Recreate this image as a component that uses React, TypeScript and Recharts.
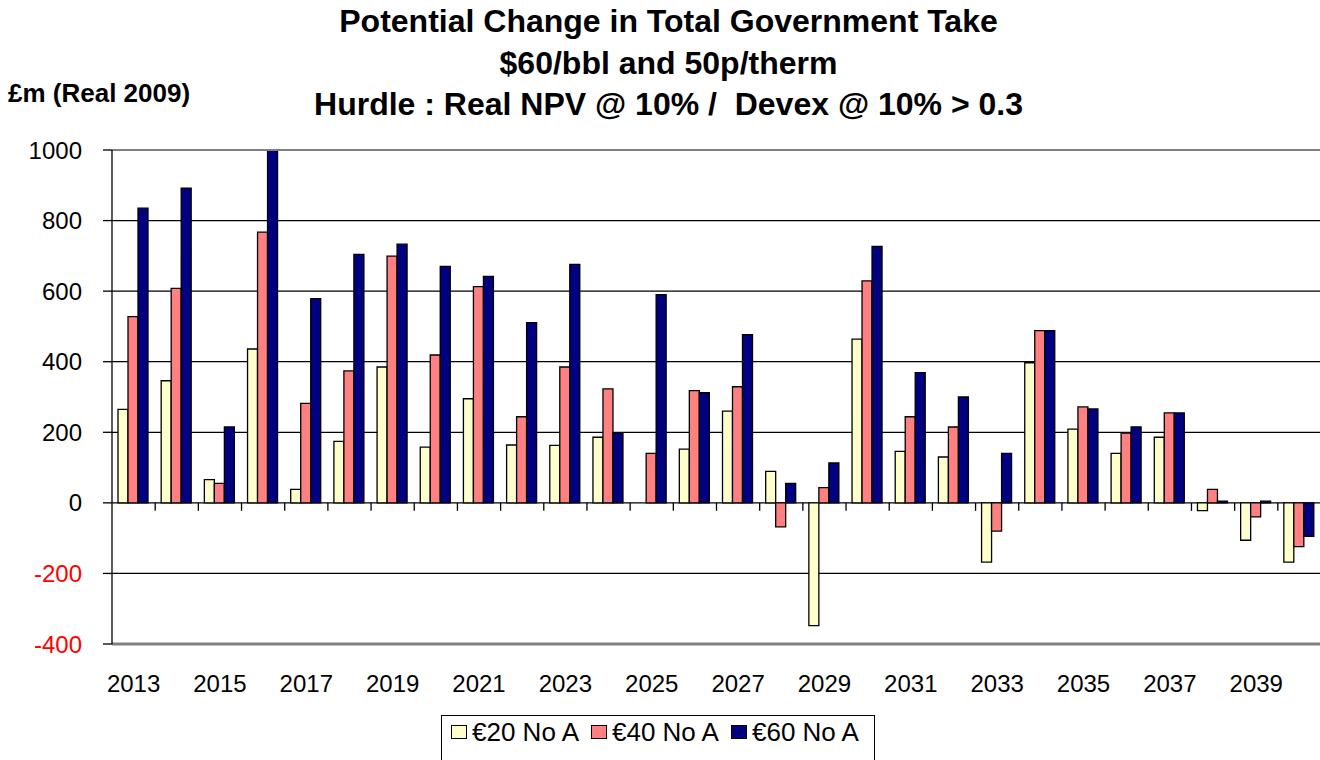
import React from 'react';
import { BarChart, Bar, XAxis, YAxis, CartesianGrid, ReferenceLine } from 'recharts';

const years = ['2013','2014','2015','2016','2017','2018','2019','2020','2021','2022','2023','2024','2025','2026','2027','2028','2029','2030','2031','2032','2033','2034','2035','2036','2037','2038','2039','2040'];
const eur20 = [265, 346, 66, 436, 38, 174, 385, 158, 295, 164, 163, 186, 0, 152, 260, 89, -348, 464, 146, 130, -168, 397, 209, 140, 186, -22, -106, -168];
const eur40 = [528, 608, 55, 767, 282, 374, 699, 419, 613, 244, 385, 323, 140, 318, 329, -68, 43, 629, 244, 215, -80, 488, 272, 198, 255, 38, -40, -124];
const eur60 = [835, 892, 215, 1000, 579, 704, 733, 670, 642, 511, 676, 198, 590, 312, 477, 55, 113, 727, 369, 300, 140, 488, 266, 215, 255, 5, 5, -95];
const yTicks = [-400, -200, 0, 200, 400, 600, 800, 1000];
const seriesNames = ['€20 No A', '€40 No A', '€60 No A'];
const seriesColors = ['#FFFFCC', '#FF8080', '#000080'];

const data = years.map((y, i) => ({ year: y, a: eur20[i], b: eur40[i], c: eur60[i] }));

const FONT = '"Liberation Sans", Arial, sans-serif';
const CHART_W = 1330;
const CHART_H = 760;
const M_TOP = 150;
const M_RIGHT = 9;
const M_BOTTOM = 56;
const Y_AXIS_W = 112;
const X_AXIS_H = 60;
const PLOT_TOP = M_TOP;
const PLOT_BOTTOM = CHART_H - M_BOTTOM - X_AXIS_H;
const PLOT_LEFT = Y_AXIS_W;
const PLOT_RIGHT = CHART_W - M_RIGHT;
const Y_MIN = -400;
const Y_MAX = 1000;
const ZERO_Y = PLOT_TOP + ((Y_MAX - 0) / (Y_MAX - Y_MIN)) * (PLOT_BOTTOM - PLOT_TOP);
const BAND = (PLOT_RIGHT - PLOT_LEFT) / years.length;

const YTick = (props: any) => {
  const { x, y, payload } = props;
  return (
    <text x={x} y={y} dy="0.36em" textAnchor="end" fontFamily={FONT} fontSize={24} fill={payload.value < 0 ? '#FF0000' : '#000'}>
      {payload.value}
    </text>
  );
};

const XTick = (props: any) => {
  const { x, y, payload, index } = props;
  const bx = x + BAND / 2;
  return (
    <g>
      <line x1={bx} y1={ZERO_Y} x2={bx} y2={ZERO_Y + 8} stroke="#000" strokeWidth={1.3} />
      {index % 2 === 0 ? (
        <text x={x} y={y + 48} textAnchor="middle" fontFamily={FONT} fontSize={24} fill="#000">
          {payload.value}
        </text>
      ) : null}
    </g>
  );
};

export default function App() {
  return (
    <div style={{ position: 'absolute', left: 0, top: 0, width: 1320, height: 760, overflow: 'hidden', background: '#fff', fontFamily: FONT }}>
      <div style={{ position: 'absolute', left: 0, top: 1, width: 1337, textAlign: 'center', fontSize: 32, fontWeight: 'bold', lineHeight: '41.5px', color: '#000' }}>
        <div>Potential Change in Total Government Take</div>
        <div>$60/bbl and 50p/therm</div>
        <div>Hurdle : Real NPV @ 10% /&nbsp; Devex @ 10% &gt; 0.3</div>
      </div>
      <div style={{ position: 'absolute', left: 8, top: 78, fontSize: 26, fontWeight: 'bold', lineHeight: '30px', color: '#000' }}>
        £m (Real 2009)
      </div>
      <div style={{ position: 'absolute', left: 0, top: 0 }}>
        <BarChart width={CHART_W} height={CHART_H} data={data} margin={{ top: M_TOP, right: M_RIGHT, bottom: M_BOTTOM, left: 0 }} barCategoryGap="13.9%" barGap={0}>
          <CartesianGrid horizontal={true} vertical={false} stroke="#000" strokeWidth={1.3} />
          <XAxis dataKey="year" height={X_AXIS_H} interval={0} tickLine={false} tickSize={0} tickMargin={0} axisLine={{ stroke: '#808080', strokeWidth: 3 }} tick={<XTick />} />
          <YAxis width={Y_AXIS_W} domain={[Y_MIN, Y_MAX]} ticks={yTicks} allowDataOverflow={true} tickSize={9} tickMargin={21} axisLine={{ stroke: '#000', strokeWidth: 1.3 }} tickLine={{ stroke: '#000', strokeWidth: 1.3 }} tick={<YTick />} />
          <ReferenceLine y={Y_MAX} stroke="#808080" strokeWidth={2} />
          <Bar dataKey="a" name={seriesNames[0]} fill={seriesColors[0]} stroke="#000" strokeWidth={1.3} isAnimationActive={false} />
          <Bar dataKey="b" name={seriesNames[1]} fill={seriesColors[1]} stroke="#000" strokeWidth={1.3} isAnimationActive={false} />
          <Bar dataKey="c" name={seriesNames[2]} fill={seriesColors[2]} stroke="#000" strokeWidth={1.3} isAnimationActive={false} />
        </BarChart>
      </div>
      <div style={{ position: 'absolute', left: 441, top: 715, width: 434, height: 60, border: '1.5px solid #000', boxSizing: 'border-box', display: 'flex', alignItems: 'flex-start', paddingLeft: 9, paddingTop: 2 }}>
        {seriesNames.map((n, i) => (
          <div key={n} style={{ display: 'flex', alignItems: 'center', marginRight: 12, height: 28 }}>
            <span style={{ display: 'inline-block', width: 14, height: 12, background: seriesColors[i], border: '1.3px solid #000', marginRight: 5 }} />
            <span style={{ fontSize: 26, lineHeight: '28px', whiteSpace: 'nowrap' }}>{n}</span>
          </div>
        ))}
      </div>
    </div>
  );
}
